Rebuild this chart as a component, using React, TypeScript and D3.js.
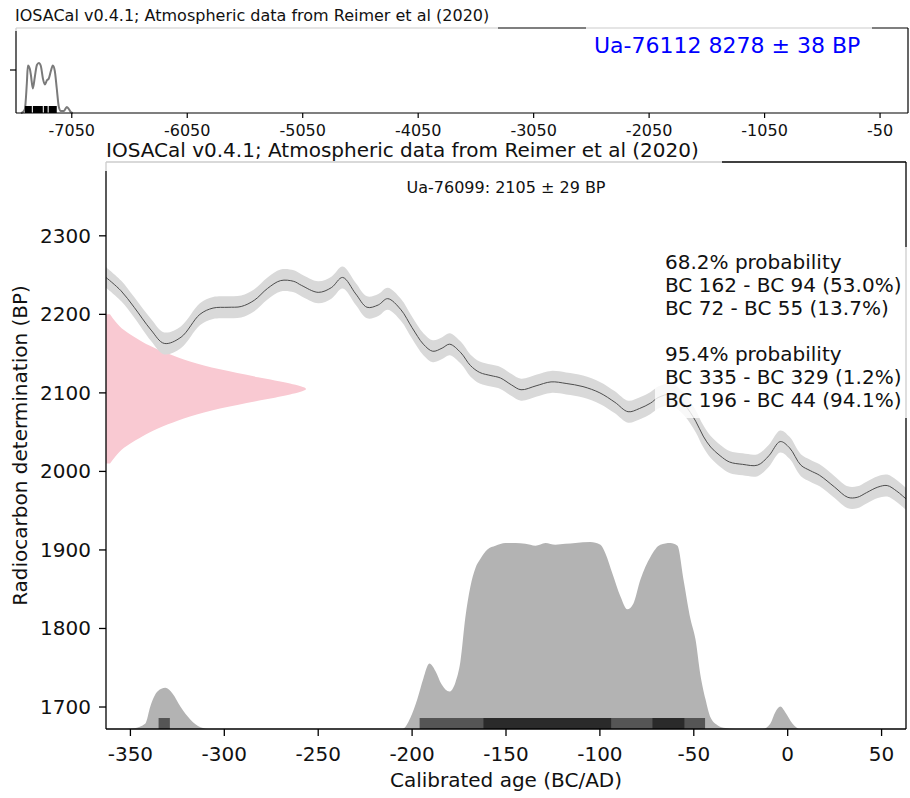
import React from "react";
import * as d3 from "d3";

const FONT = "'DejaVu Sans', 'Liberation Sans', sans-serif";

// ---- Main plot: calibration curve segment (cal year BC/AD, BP, 1 sigma) ----
const CURVE_YEARS = [-363, -355, -348, -339, -332, -323, -313, -306, -298, -291, -284, -277, -270, -263, -259, -250, -243, -237, -230, -224, -218, -213, -206, -200, -194, -189, -184, -180, -174, -169, -164, -158, -153, -147, -142, -134, -126, -118, -109, -100, -92, -85, -79, -73, -69, -62, -55, -49, -45, -41, -36, -31, -24, -16, -10, -4, 1, 7, 12, 17, 25, 32, 37, 42, 48, 53, 58, 63];
const CURVE_BP = [2247, 2230, 2209, 2180, 2163, 2171, 2200, 2208, 2209, 2210, 2218, 2233, 2243, 2242, 2237, 2228, 2234, 2247, 2226, 2209, 2212, 2220, 2206, 2183, 2162, 2153, 2157, 2162, 2151, 2135, 2126, 2122, 2119, 2110, 2104, 2109, 2114, 2112, 2108, 2100, 2088, 2076, 2080, 2087, 2094, 2098, 2085, 2064, 2045, 2031, 2020, 2012, 2009, 2008, 2020, 2038, 2030, 2008, 2001, 1995, 1980, 1967, 1967, 1973, 1980, 1982, 1975, 1965];
const CURVE_ERR = [13, 13, 13, 14, 14, 14, 14, 14, 14, 14, 14, 14, 14, 14, 14, 14, 14, 14, 14, 14, 14, 14, 14, 14, 14, 14, 14, 14, 14, 14, 14, 14, 14, 14, 14, 14, 14, 14, 14, 14, 14, 14, 14, 14, 14, 14, 14, 14, 14, 14, 14, 14, 14, 14, 14, 14, 14, 14, 14, 14, 14, 14, 14, 14, 14, 14, 14, 14];

// ---- Radiocarbon determination Ua-76099 (BP, relative density) ----
const DET_BP = [2200, 2190, 2180, 2170, 2160, 2150, 2140, 2130, 2120, 2112, 2105, 2098, 2090, 2080, 2070, 2060, 2050, 2040, 2030, 2020, 2010];
const DET_DENS = [0.02, 0.05, 0.09, 0.15, 0.22, 0.31, 0.42, 0.57, 0.76, 0.92, 1.0, 0.92, 0.76, 0.57, 0.42, 0.31, 0.22, 0.15, 0.09, 0.05, 0.02];

// ---- Calibrated probability (cal year, relative probability) ----
const PROB_YEARS = [-363, -352, -348, -342, -339.4, -335.6, -331.4, -327.6, -323.4, -318, -312.7, -307.4, -250, -205.2, -200.9, -197.2, -194, -190.8, -187.6, -184.4, -180.1, -176.9, -174.3, -171.6, -169, -166.3, -163.6, -159.9, -155.6, -150.3, -145, -139.7, -134.3, -129, -123.7, -118.4, -113, -105.1, -99.7, -97.1, -93.3, -89.1, -85.4, -82.2, -78.4, -73.1, -67.8, -62.5, -58.7, -55.5, -51.8, -49.1, -46.5, -43.8, -41.2, -37.4, -33.2, -27.8, -13.5, -9.2, -6.6, -3.9, -1.3, 2.5, 6.8, 63];
const PROB = [0, 0, 0.004, 0.03, 0.12, 0.2, 0.22, 0.19, 0.12, 0.05, 0.01, 0, 0, 0, 0.06, 0.16, 0.27, 0.35, 0.31, 0.24, 0.2, 0.25, 0.36, 0.6, 0.76, 0.86, 0.91, 0.96, 0.98, 0.995, 0.995, 0.99, 0.98, 0.995, 0.985, 0.99, 0.995, 1.0, 0.985, 0.94, 0.83, 0.71, 0.64, 0.67, 0.8, 0.92, 0.985, 0.995, 0.98, 0.8, 0.59, 0.48, 0.29, 0.16, 0.064, 0.02, 0.005, 0, 0, 0.03, 0.09, 0.12, 0.09, 0.03, 0, 0];

const HPD_95 = [[-335, -329], [-196, -44]];
const HPD_68 = [[-162, -94], [-72, -55]];

const X_TICKS = [-350, -300, -250, -200, -150, -100, -50, 0, 50];
const Y_TICKS = [1700, 1800, 1900, 2000, 2100, 2200, 2300];

const LEGEND_LINES = [
  "68.2% probability",
  "BC 162 - BC 94 (53.0%)",
  "BC 72 - BC 55 (13.7%)",
  "",
  "95.4% probability",
  "BC 335 - BC 329 (1.2%)",
  "BC 196 - BC 44 (94.1%)",
];

const TITLE = "IOSACal v0.4.1; Atmospheric data from Reimer et al (2020)";
const MAIN_LABEL = "Ua-76099: 2105 \u00b1 29 BP";
const TOP_LABEL = "Ua-76112 8278 \u00b1 38 BP";

// ---- Upper strip: calibrated probability for Ua-76112 ----
const MINI_YEARS = [-7490, -7473, -7456, -7439, -7430, -7413, -7404, -7387, -7370, -7352, -7335, -7318, -7300, -7283, -7266, -7249, -7231, -7214, -7197, -7180, -7162, -7145, -7119, -7093, -7076, -7059, -7041];
const MINI_PROB = [0, 0.02, 0.08, 0.6, 0.95, 0.88, 0.76, 0.49, 0.72, 0.96, 1.0, 0.94, 0.69, 0.57, 0.65, 0.69, 0.84, 0.95, 0.84, 0.49, 0.12, 0.04, 0.04, 0.12, 0.08, 0.02, 0];
const MINI_HPD = [[-7456, -7396], [-7387, -7301], [-7292, -7259], [-7250, -7180]];
const MINI_X_TICKS = [-7050, -6050, -5050, -4050, -3050, -2050, -1050, -50];
const MINI_Y_TICKS = [0.86];

export default function App() {
  // main axes frame
  const L = 106, R = 906, T = 162, B = 729;
  const x = d3.scaleLinear().domain([-363, 63]).range([L, R]);
  const y = d3.scaleLinear().domain([1672, 2394]).range([B, T]);
  const pY = d3.scaleLinear().domain([0, 1]).range([B, B - 187]);
  const dX = d3.scaleLinear().domain([0, 1]).range([L, L + 200]);

  // upper strip frame
  const tL = 16, tR = 908, tT = 28, tB = 113;
  const mx = d3.scaleLinear().domain([-7533, 192]).range([tL, tR]);
  const my = d3.scaleLinear().domain([0, 1]).range([tB, tB - 50]);

  const curve = CURVE_YEARS.map((yr, i) => ({ yr, bp: CURVE_BP[i], e: CURVE_ERR[i] }));
  const band = d3
    .area<any>()
    .x((d) => x(d.yr))
    .y0((d) => y(d.bp - d.e))
    .y1((d) => y(d.bp + d.e))
    .curve(d3.curveCatmullRom.alpha(0.5));
  const line = d3
    .line<any>()
    .x((d) => x(d.yr))
    .y((d) => y(d.bp))
    .curve(d3.curveCatmullRom.alpha(0.5));

  const det = DET_BP.map((bp, i) => ({ bp, p: DET_DENS[i] }));
  const detArea = d3
    .area<any>()
    .y((d) => y(d.bp))
    .x0(dX(0))
    .x1((d) => dX(d.p))
    .curve(d3.curveMonotoneY);

  const prob = PROB_YEARS.map((yr, i) => ({ yr, p: PROB[i] }));
  const probArea = d3
    .area<any>()
    .x((d) => x(d.yr))
    .y0(pY(0))
    .y1((d) => pY(d.p))
    .curve(d3.curveMonotoneX);

  const mini = MINI_YEARS.map((yr, i) => ({ yr, p: MINI_PROB[i] }));
  const miniLine = d3
    .line<any>()
    .x((d) => mx(d.yr))
    .y((d) => my(d.p))
    .curve(d3.curveMonotoneX);

  const BAR_H = 11;
  const txt = "#111";

  return (
    <div style={{ position: "absolute", left: 0, top: 0 }}>
      <svg width={910} height={798} style={{ display: "block", background: "#fff" }} fontFamily={FONT}>
        {/* ===== upper strip ===== */}
        <path d={miniLine(mini) || ""} fill="none" stroke="#7a7a7a" strokeWidth={2} />
        {MINI_HPD.map(([a, b], i) => (
          <rect key={"mh" + i} x={mx(a)} y={tB - 7} width={mx(b) - mx(a)} height={7} fill="#000" />
        ))}
        <line x1={tL} x2={tR} y1={tT} y2={tT} stroke="#000" strokeWidth={1.2} />
        <line x1={tR} x2={tR} y1={tT} y2={tB} stroke="#000" strokeWidth={1.2} />
        <line x1={tL} x2={tL} y1={tT} y2={tB} stroke="#000" strokeWidth={1.2} />
        <line x1={tL} x2={tR} y1={tB} y2={tB} stroke="#000" strokeWidth={1.2} />
        {MINI_Y_TICKS.map((v) => (
          <line key={"myt" + v} x1={tL - 6} x2={tL} y1={my(v)} y2={my(v)} stroke="#000" strokeWidth={1.2} />
        ))}
        {MINI_X_TICKS.map((v) => (
          <g key={"mxt" + v}>
            <line x1={mx(v)} x2={mx(v)} y1={tB} y2={tB + 5} stroke="#000" strokeWidth={1.2} />
            <text x={mx(v)} y={136} fontSize={16} textAnchor="middle" fill={txt}>
              {v}
            </text>
          </g>
        ))}
        <rect x={8} y={2} width={490} height={29} fill="#fff" fillOpacity={0.8} />
        <text x={15} y={21} fontSize={16} fill={txt}>
          {TITLE}
        </text>
        <rect x={586} y={25} width={286} height={37} fill="#fff" fillOpacity={0.8} />
        <text x={594} y={53} fontSize={22} fill="#0000ff">
          {TOP_LABEL}
        </text>

        {/* ===== main plot ===== */}
        <path d={detArea(det) || ""} fill="#f9c9d2" />
        <path d={probArea(prob) || ""} fill="#b3b3b3" />
        {HPD_95.map(([a, b], i) => (
          <rect key={"h95" + i} x={x(a)} y={B - BAR_H} width={x(b) - x(a)} height={BAR_H} fill="#555" />
        ))}
        {HPD_68.map(([a, b], i) => (
          <rect key={"h68" + i} x={x(a)} y={B - BAR_H} width={x(b) - x(a)} height={BAR_H} fill="#2a2a2a" />
        ))}
        <path d={band(curve) || ""} fill="#d9d9d9" />
        <path d={line(curve) || ""} fill="none" stroke="#4d4d4d" strokeWidth={1} />

        {/* frame */}
        <line x1={L} x2={R} y1={T} y2={T} stroke="#000" strokeWidth={1.3} />
        <line x1={L} x2={L} y1={T} y2={B} stroke="#000" strokeWidth={1.3} />
        <line x1={R} x2={R} y1={T} y2={B} stroke="#000" strokeWidth={1.3} />
        <line x1={L} x2={R} y1={B} y2={B} stroke="#000" strokeWidth={1.3} />

        {X_TICKS.map((v) => (
          <g key={"xt" + v}>
            <line x1={x(v)} x2={x(v)} y1={B} y2={B + 7} stroke="#000" strokeWidth={1.3} />
            <text x={x(v)} y={761} fontSize={20} textAnchor="middle" fill={txt}>
              {v}
            </text>
          </g>
        ))}
        {Y_TICKS.map((v) => (
          <g key={"yt" + v}>
            <line x1={L - 7} x2={L} y1={y(v)} y2={y(v)} stroke="#000" strokeWidth={1.3} />
            <text x={91} y={y(v) + 7} fontSize={20} textAnchor="end" fill={txt}>
              {v}
            </text>
          </g>
        ))}
        <text x={(L + R) / 2} y={787} fontSize={20} textAnchor="middle" fill={txt}>
          Calibrated age (BC/AD)
        </text>
        <text
          transform={`translate(27, ${(T + B) / 2}) rotate(-90)`}
          fontSize={20}
          textAnchor="middle"
          fill={txt}
        >
          Radiocarbon determination (BP)
        </text>

        {/* interval summary */}
        <rect x={655} y={247} width={255} height={171} fill="#fff" fillOpacity={0.8} />
        {LEGEND_LINES.map((s, i) => (
          <text key={"lg" + i} x={665} y={269 + i * 23} fontSize={20} fill={txt}>
            {s}
          </text>
        ))}

        <text x={(L + R) / 2} y={193} fontSize={16} textAnchor="middle" fill={txt}>
          {MAIN_LABEL}
        </text>

        <rect x={98} y={137} width={624} height={34} fill="#fff" fillOpacity={0.8} />
        <text x={106} y={157} fontSize={20} fill={txt}>
          {TITLE}
        </text>
      </svg>
    </div>
  );
}
